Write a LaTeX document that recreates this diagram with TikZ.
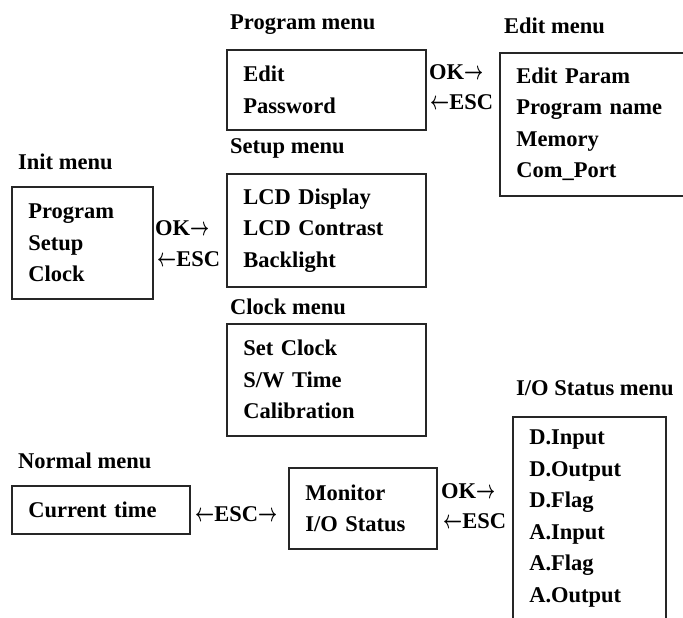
\documentclass[tikz,border=0pt]{standalone}
\usepackage{amsmath}
\usepackage{fontspec}
\setmainfont{Liberation Serif}
\newcommand{\rarr}{\scalebox{0.8}[1.25]{$\boldsymbol{\rightarrow}$}}
\newcommand{\larr}{\scalebox{0.8}[1.25]{$\boldsymbol{\leftarrow}$}}
\begin{document}
\begin{tikzpicture}[x=1pt,y=-1pt,
  every node/.style={font=\fontsize{22.5}{31.5}\selectfont\bfseries, inner sep=0pt},
  menubox/.style={draw=black!85, line width=1.6pt, anchor=north west, align=left, inner xsep=16.5pt, inner ysep=0pt},
  ttl/.style={anchor=base west},
  lbl/.style={anchor=base west}]
\useasboundingbox (0,0) rectangle (683,618);
\clip (0,0) rectangle (683,618);
% boxes
\node[menubox, text width=166pt, minimum height=80pt] (prog) at (226,49) {Edit\\Password};
\node[menubox, text width=167pt, minimum height=143pt] (edit) at (499,52) {Edit Param\\Program name\\Memory\\Com\_Port};
\node[menubox, text width=108pt, minimum height=112pt] (init) at (11,186) {Program\\Setup\\Clock};
\node[menubox, text width=166pt, minimum height=113pt] (setup) at (226,173) {LCD Display\\LCD Contrast\\Backlight};
\node[menubox, text width=166pt, minimum height=112pt] (clock) at (226,323) {Set Clock\\S/W Time\\Calibration};
\node[menubox, text width=145pt, minimum height=48pt] (normal) at (11,485) {Current time};
\node[menubox, text width=115pt, minimum height=81pt] (monitor) at (288,467) {Monitor\\I/O Status};
\node[menubox, text width=120pt, minimum height=203pt] (io) at (512,416) {D.Input\\D.Output\\D.Flag\\A.Input\\A.Flag\\A.Output};
% titles
\node[ttl] (tprog) at (230,29.5) {Program menu};
\node[ttl] (tedit) at (504,33.5) {Edit menu};
\node[ttl] (tsetup) at (230,153.5) {Setup menu};
\node[ttl] (tinit) at (18,169.5) {Init menu};
\node[ttl] (tclock) at (230,314.5) {Clock menu};
\node[ttl] (tio) at (516,395.5) {I/O Status menu};
\node[ttl] (tnormal) at (18,468.5) {Normal menu};
% key labels
\node[lbl] (ok1) at (429,79.5) {OK\rarr};
\node[lbl] (esc1) at (430,109.5) {\larr ESC};
\node[lbl] (ok2) at (155,235.5) {OK\rarr};
\node[lbl] (esc2) at (157,266.5) {\larr ESC};
\node[lbl] (esc3) at (195,521.5) {\larr ESC\rarr};
\node[lbl] (ok4) at (441,498.5) {OK\rarr};
\node[lbl] (esc4) at (443,528.5) {\larr ESC};
\end{tikzpicture}
\end{document}
